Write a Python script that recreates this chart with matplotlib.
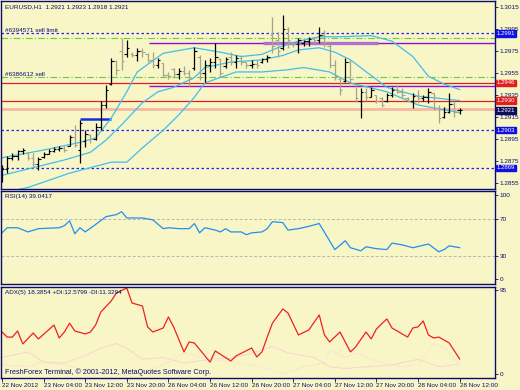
import matplotlib
matplotlib.use('Agg')
import matplotlib.pyplot as plt

plt.rcParams['font.family'] = ['Liberation Sans', 'DejaVu Sans']

# ---- price bars, H1, index 0 = 22 Nov 20:00, index 88 = 28 Nov 12:00
bar_open = [1.2858, 1.2868, 1.2878, 1.2880, 1.2884, 1.2882, 1.2878, 1.2872, 1.2879, 1.2881,
            1.2884, 1.2886, 1.2887, 1.2889, 1.2897, 1.2885, 1.2893, 1.2899, 1.2895, 1.2906,
            1.2926, 1.2945, 1.2966, 1.2975, 1.2972, 1.2972, 1.2971, 1.2975, 1.2972, 1.2967,
            1.2962, 1.2964, 1.2953, 1.2959, 1.2954, 1.2957, 1.2955, 1.2960, 1.2970, 1.2955,
            1.2962, 1.2965, 1.2968, 1.2961, 1.2970, 1.2965, 1.2969, 1.2965, 1.2962, 1.2963,
            1.2965, 1.2968, 1.2990, 1.2985, 1.2978, 1.2995, 1.2982, 1.2981, 1.2982, 1.2984,
            1.2986, 1.2985, 1.2990, 1.2980, 1.2962, 1.2950, 1.2948, 1.2965, 1.2945, 1.2930,
            1.2938, 1.2933, 1.2935, 1.2932, 1.2930, 1.2935, 1.2940, 1.2938, 1.2932, 1.2930,
            1.2934, 1.2932, 1.2933, 1.2937, 1.2923, 1.2915, 1.2920, 1.2927, 1.2921]
bar_high = [1.2871, 1.2880, 1.2882, 1.2885, 1.2887, 1.2883, 1.2882, 1.2879, 1.2883, 1.2886,
            1.2888, 1.2889, 1.2889, 1.2899, 1.2908, 1.2912, 1.2903, 1.2900, 1.2910, 1.2930,
            1.2944, 1.2969, 1.2967, 1.2987, 1.2985, 1.2974, 1.2978, 1.2978, 1.2973, 1.2974,
            1.2969, 1.2964, 1.2956, 1.2960, 1.2960, 1.2961, 1.2958, 1.2979, 1.2971, 1.2967,
            1.2969, 1.2982, 1.2969, 1.2970, 1.2974, 1.2971, 1.2971, 1.2965, 1.2967, 1.2967,
            1.2969, 1.2971, 1.3006, 1.2992, 1.3008, 1.2997, 1.2983, 1.2987, 1.2985, 1.2988,
            1.2988, 1.2997, 1.2994, 1.2981, 1.2967, 1.2951, 1.2969, 1.2967, 1.2946, 1.2941,
            1.2941, 1.2942, 1.2935, 1.2933, 1.2937, 1.2942, 1.2944, 1.2941, 1.2933, 1.2937,
            1.2940, 1.2935, 1.2941, 1.2937, 1.2926, 1.2924, 1.2937, 1.2929, 1.2923]
bar_low = [1.2856, 1.2864, 1.2876, 1.2876, 1.2881, 1.2876, 1.2869, 1.2867, 1.2878, 1.2881,
           1.2883, 1.2884, 1.2883, 1.2889, 1.2888, 1.2873, 1.2888, 1.2891, 1.2894, 1.2903,
           1.2923, 1.2944, 1.2953, 1.2958, 1.2970, 1.2970, 1.2966, 1.2970, 1.2965, 1.2960,
           1.2960, 1.2951, 1.2950, 1.2951, 1.2950, 1.2953, 1.2943, 1.2958, 1.2949, 1.2947,
           1.2956, 1.2960, 1.2951, 1.2960, 1.2962, 1.2960, 1.2962, 1.2960, 1.2960, 1.2960,
           1.2964, 1.2965, 1.2973, 1.2970, 1.2976, 1.2978, 1.2979, 1.2973, 1.2980, 1.2980,
           1.2982, 1.2982, 1.2979, 1.2960, 1.2949, 1.2935, 1.2947, 1.2946, 1.2929, 1.2914,
           1.2930, 1.2933, 1.2928, 1.2924, 1.2929, 1.2933, 1.2937, 1.2932, 1.2929, 1.2923,
           1.2928, 1.2930, 1.2928, 1.2921, 1.2910, 1.2914, 1.2919, 1.2915, 1.2918]
bar_close = [1.2868, 1.2878, 1.2880, 1.2884, 1.2885, 1.2878, 1.2872, 1.2877, 1.2881, 1.2884,
             1.2886, 1.2887, 1.2885, 1.2897, 1.2890, 1.2910, 1.2900, 1.2895, 1.2906, 1.2926,
             1.2940, 1.2966, 1.2958, 1.2966, 1.2978, 1.2971, 1.2975, 1.2974, 1.2967, 1.2962,
             1.2967, 1.2953, 1.2952, 1.2954, 1.2957, 1.2955, 1.2950, 1.2975, 1.2955, 1.2962,
             1.2965, 1.2970, 1.2955, 1.2968, 1.2965, 1.2969, 1.2965, 1.2962, 1.2963, 1.2962,
             1.2968, 1.2970, 1.2980, 1.2975, 1.2995, 1.2985, 1.2981, 1.2985, 1.2984, 1.2986,
             1.2985, 1.2990, 1.2983, 1.2962, 1.2952, 1.2940, 1.2965, 1.2950, 1.2932, 1.2938,
             1.2933, 1.2940, 1.2930, 1.2926, 1.2935, 1.2940, 1.2938, 1.2935, 1.2930, 1.2934,
             1.2932, 1.2933, 1.2938, 1.2923, 1.2914, 1.2920, 1.2927, 1.2920, 1.2921]

# ---- three band lines (read at selected bars)
upper_idx = [0, 8, 15, 18, 21, 24, 26, 31, 37, 42, 46, 50, 53, 57, 61, 65, 71, 75, 79, 82, 85, 88]
upper_val = [1.2878, 1.2885, 1.2892, 1.2896, 1.2914, 1.2938, 1.2956, 1.2973, 1.2978, 1.2974, 1.2970,
             1.2972, 1.2978, 1.2984, 1.2988, 1.2988, 1.2989, 1.2984, 1.2970, 1.2952, 1.2945, 1.2940]
mid_idx = [0, 6, 12, 17, 20, 23, 27, 30, 33, 37, 39, 44, 50, 54, 57, 61, 64, 67, 74, 80, 88]
mid_val = [1.2862, 1.2869, 1.2876, 1.2883, 1.2894, 1.2908, 1.2928, 1.2938, 1.2942, 1.2951, 1.2960,
           1.2965, 1.2967, 1.2971, 1.2976, 1.2978, 1.2974, 1.2967, 1.2942, 1.2934, 1.2930]
lower_idx = [3, 5, 13, 21, 24, 27, 31, 34, 37, 39, 45, 50, 55, 58, 63, 67, 74, 80, 88]
lower_val = [1.2849, 1.2851, 1.2864, 1.2874, 1.2874, 1.2887, 1.2903, 1.2917, 1.2933, 1.2946, 1.2956,
             1.2956, 1.2958, 1.2960, 1.2956, 1.2946, 1.2938, 1.2926, 1.2919]

# ---- RSI(14)
rsi_idx = [0, 1, 3, 5, 7, 11, 12, 13, 14, 15, 16, 18, 20, 22, 23, 24, 27, 29, 31, 32, 34, 36, 37,
           38, 39, 41, 42, 43, 44, 46, 47, 48, 50, 51, 52, 54, 55, 57, 59, 61, 64, 66, 67, 69, 70,
           72, 74, 75, 77, 79, 82, 84, 85, 86, 88]
rsi_val = [55, 60.5, 60.5, 56, 59.5, 60.5, 62.7, 68, 54, 60.5, 56, 64, 72.4, 74.6, 77.8, 71, 71, 69,
           59.5, 60.5, 59.5, 59.5, 65, 55, 60.5, 58, 56, 59.5, 56, 56, 53, 55, 56, 59.5, 67, 66, 58,
           59.5, 62, 65, 37, 46.5, 39, 35.7, 40, 38, 37, 44, 42, 39, 43, 34.6, 37, 41, 39.04]

# ---- ADX(5) with +DI / -DI
adx_idx = [0, 1, 2, 3, 4, 6, 7, 10, 11, 12, 13, 14, 16, 17, 18, 19, 21, 22, 24, 25, 27, 28, 29, 31,
           32, 33, 35, 36, 37, 40, 41, 44, 45, 48, 49, 50, 51, 52, 54, 55, 57, 59, 61, 62, 63, 65,
           67, 68, 70, 71, 72, 74, 75, 78, 79, 80, 81, 82, 83, 84, 86, 88]
adx_val = [47.5, 42, 42, 48.6, 34.6, 46.4, 40, 55, 41, 47.5, 57, 48.6, 45.4, 47.5, 55, 69, 81, 89.6,
           95, 78.8, 75.6, 53, 47.5, 51.8, 63.7, 53, 26, 36.7, 35.6, 15, 27, 16.2, 21.6, 30.2, 20.5,
           26, 42, 57, 72.4, 68, 44.3, 49.7, 65.9, 44.3, 36.7, 47.5, 26, 31.3, 47.5, 40, 50.8, 61.6,
           51.8, 42, 51.8, 53, 59.4, 44.3, 41, 42, 35.6, 18.39]
pdi_idx = [0, 5, 8, 12, 16, 19, 22, 24, 27, 31, 35, 40, 45, 50, 52, 55, 60, 63, 66, 70, 75, 80, 84, 88]
pdi_val = [20, 26, 15, 14, 22, 30, 35, 30, 18, 20, 14, 18, 20, 28, 32, 25, 20, 10, 8, 10, 12, 18, 10, 12.58]
mdi_idx = [0, 5, 8, 12, 16, 20, 24, 27, 31, 35, 40, 45, 50, 54, 58, 62, 63, 66, 68, 72, 77, 80, 83,
           85, 86, 88]
mdi_val = [12, 10, 15, 12, 6, 3, 1, 5, 12, 25, 18, 15, 10, 2, 10, 14, 28, 20, 25, 16, 10, 12, 35, 30,
           25, 11.33]

time_idx = [0, 8, 16, 24, 32, 40, 48, 56, 64, 72, 80, 88]
time_lbl = ['22 Nov 2012', '23 Nov 04:00', '23 Nov 12:00', '23 Nov 20:00', '26 Nov 04:00',
            '26 Nov 12:00', '26 Nov 20:00', '27 Nov 04:00', '27 Nov 12:00', '27 Nov 20:00',
            '28 Nov 04:00', '28 Nov 12:00']
price_ticks = [1.3015, 1.2995, 1.2975, 1.2955, 1.2935, 1.2915, 1.2895, 1.2875, 1.2855]

# horizontal objects: price, colour
tags = [(1.2991, '#1010e0'), (1.2946, '#e02020'), (1.2930, '#e02020'),
        (1.2921, '#0c0c60'), (1.2903, '#1010e0'), (1.2869, '#1010e0')]

BG = '#f8f6c6'
NAVY = '#0c0c70'
CYAN = '#3ec0ef'
FS = 4.6

W, H = 520, 390
fig = plt.figure(figsize=(5.2, 3.9), dpi=100, facecolor=BG)


def box(x0, y0, x1, y1):
    return [x0 / W, 1 - y1 / H, (x1 - x0) / W, (y1 - y0) / H]


ax = fig.add_axes(box(1, 1, 495, 189))
ax_rsi = fig.add_axes(box(1, 191, 495, 284))
ax_adx = fig.add_axes(box(1, 287, 495, 378))

for a in (ax, ax_rsi, ax_adx):
    a.set_facecolor(BG)
    a.set_xlim(-0.19, 94.8)
    for s in a.spines.values():
        s.set_color(NAVY)
        s.set_linewidth(1.0)
    a.yaxis.tick_right()
    a.tick_params(axis='y', length=2, pad=1.5, labelsize=FS, colors=NAVY, width=0.6)
    a.tick_params(axis='x', length=0, labelbottom=False)

# ---- main chart
ax.set_ylim(1.28496, 1.30205)
ax.set_yticks(price_ticks)
ax.set_yticklabels(['%.4f' % p for p in price_ticks])

# order / level lines
ax.axhline(1.2991, color='#2020f0', lw=0.9, ls=(0, (2, 2)))
ax.axhline(1.2987, color='#66cc44', lw=0.8, ls=(0, (6, 2, 1, 2)))
ax.axhline(1.2951, color='#66cc44', lw=0.8, ls=(0, (6, 2, 1, 2)))
ax.axhline(1.2946, color='#e02020', lw=0.9)
ax.axhline(1.2930, color='#e02020', lw=0.9)
ax.axhline(1.2922, color='#f4b8a4', lw=2.0)
ax.axhline(1.2903, color='#2020f0', lw=0.9, ls=(0, (2, 2)))
ax.axhline(1.2869, color='#2020f0', lw=0.9, ls=(0, (2, 2)))
ax.hlines([1.29827, 1.29432], 28.3, 94.8, color='#9010d0', lw=1.0)
ax.hlines(1.29827, 50.2, 72.3, color='#b070d0', lw=2.4)
ax.hlines(1.2913, 15, 21, color='#1030e0', lw=1.8)

ax.text(0.008, 1.2991, '#6394571 sell limit', transform=ax.get_yaxis_transform(),
        fontsize=FS, color=NAVY, va='bottom')
ax.text(0.008, 1.2951, '#6386612 sell', transform=ax.get_yaxis_transform(),
        fontsize=FS, color=NAVY, va='bottom')
ax.text(0.008, 0.968, 'EURUSD,H1  1.2921 1.2923 1.2918 1.2921', transform=ax.transAxes,
        fontsize=FS, color=NAVY, va='center')

# moving bands
ax.plot(upper_idx, upper_val, color=CYAN, lw=0.9)
ax.plot(mid_idx, mid_val, color=CYAN, lw=0.9)
ax.plot(lower_idx, lower_val, color=CYAN, lw=0.9)

# OHLC bars
idx = list(range(len(bar_open)))
cols = ['#000000' if c >= o else '#a4a48c' for o, c in zip(bar_open, bar_close)]
ax.vlines(idx, bar_low, bar_high, colors=cols, lw=0.9)
ax.hlines(bar_open, [i - 0.45 for i in idx], idx, colors=cols, lw=0.8)
ax.hlines(bar_close, idx, [i + 0.45 for i in idx], colors=cols, lw=0.8)

for price, col in tags:
    ax.text(1.004, price, '%.4f' % price, transform=ax.get_yaxis_transform(),
            fontsize=4.3, color='white', va='center', ha='left', clip_on=False, zorder=10,
            bbox=dict(boxstyle='square,pad=0.1', fc=col, ec=col))

# ---- RSI
ax_rsi.set_ylim(0, 100)
ax_rsi.set_yticks([95.7, 70, 30, 5.4])
ax_rsi.set_yticklabels(['100', '70', '30', '0'])
ax_rsi.axhline(70, color='#b8b8b0', lw=0.7, ls=(0, (3, 2)))
ax_rsi.axhline(30, color='#b8b8b0', lw=0.7, ls=(0, (3, 2)))
ax_rsi.plot(rsi_idx, rsi_val, color='#2090f0', lw=0.9)
ax_rsi.text(0.008, 0.945, 'RSI(14) 39.0417', transform=ax_rsi.transAxes,
            fontsize=FS, color=NAVY, va='center')

# ---- ADX
ax_adx.set_ylim(-2.2, 96.1)
ax_adx.set_yticks([92.9, 2])
ax_adx.set_yticklabels(['95', '0'])
ax_adx.plot(pdi_idx, pdi_val, color='#f8d8cc', lw=0.8)
ax_adx.plot(mdi_idx, mdi_val, color='#f9e0d4', lw=0.8, ls=(0, (2, 1)))
ax_adx.plot(adx_idx, adx_val, color='#f02020', lw=0.9)
ax_adx.text(0.008, 0.945, 'ADX(5) 18.3854 +DI:12.5799 -DI:11.3294', transform=ax_adx.transAxes,
            fontsize=FS, color=NAVY, va='center')
ax_adx.text(0.008, 0.066, 'FreshForex Terminal, \u00a9 2001-2012, MetaQuotes Software Corp.',
            transform=ax_adx.transAxes, fontsize=FS + 0.6, color=NAVY, va='center')

ax_adx.set_xticks(time_idx)
ax_adx.set_xticklabels(time_lbl)
ax_adx.tick_params(axis='x', length=3, width=0.6, pad=0.5, labelsize=FS, colors=NAVY,
                   labelbottom=True, direction='out')
for lab in ax_adx.get_xticklabels():
    lab.set_ha('left')

fig.savefig('out.png', dpi=100, facecolor=BG)
